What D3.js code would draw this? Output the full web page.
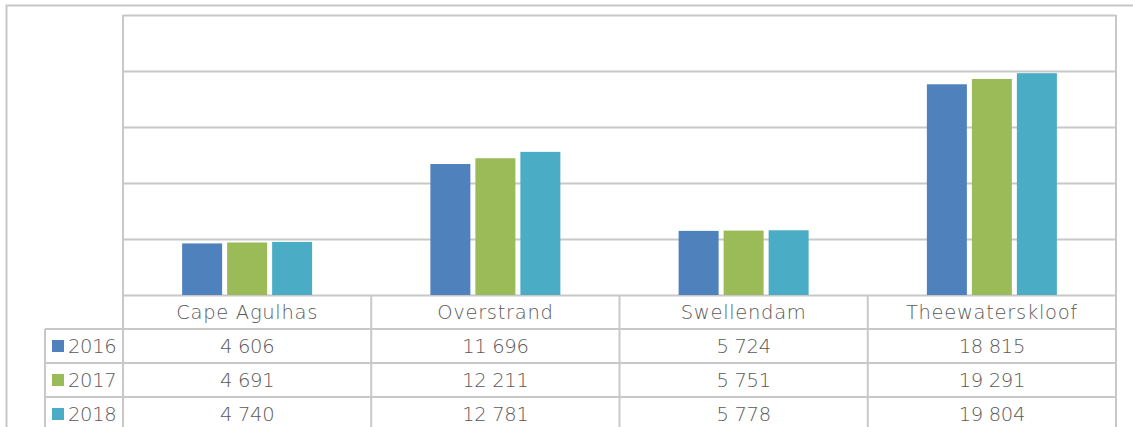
<!DOCTYPE html>
<html>
<head>
<meta charset="utf-8">
<script src="https://cdn.jsdelivr.net/npm/d3@7"></script>
<style>
  body { margin: 0; background: #fff; }
  text { font-family: "Century Gothic", "URW Gothic", "DejaVu Sans", sans-serif; fill: #595959; font-weight: 200; }
  text.cat { letter-spacing: 0.7px; }
  text.val, text.yr { letter-spacing: -0.3px; }
</style>
</head>
<body>
<div id="chart"></div>
<script>
// data
var municipalities = ["Cape Agulhas", "Overstrand", "Swellendam", "Theewaterskloof"];
var years = ["2016", "2017", "2018"];
var values2016 = [4606, 11696, 5724, 18815];
var values2017 = [4691, 12211, 5751, 19291];
var values2018 = [4740, 12781, 5778, 19804];
var yTicks = [0, 5000, 10000, 15000, 20000, 25000];
var colors = ["#4F81BD", "#9BBB59", "#4BACC6"];

var series = [values2016, values2017, values2018];

var W = 1133, H = 427;
var plot = { left: 123, right: 1116, top: 15, bottom: 295 };
var rowH = 34;
var tableLeft = 45;
var gridColor = "#C8C8C8";

var svg = d3.select("#chart")
    .append("svg")
    .attr("width", W)
    .attr("height", H);

// outer chart border (only top + left show)
svg.append("rect")
    .attr("x", 6.5).attr("y", 5.5)
    .attr("width", 1200).attr("height", 600)
    .attr("fill", "none")
    .attr("stroke", gridColor)
    .attr("stroke-width", 2);

var x = d3.scaleBand()
    .domain(municipalities)
    .range([plot.left, plot.right]);

var y = d3.scaleLinear()
    .domain([0, 25000])
    .range([plot.bottom, plot.top]);

// gridlines
svg.append("g")
    .selectAll("line")
    .data(yTicks)
    .join("line")
    .attr("x1", plot.left).attr("x2", plot.right)
    .attr("y1", function (d) { return Math.round(y(d)) + 0.5 })
    .attr("y2", function (d) { return Math.round(y(d)) + 0.5 })
    .attr("stroke", gridColor)
    .attr("stroke-width", 2);

// plot area sides
svg.append("line")
    .attr("x1", plot.left).attr("x2", plot.left)
    .attr("y1", plot.top).attr("y2", plot.bottom)
    .attr("stroke", gridColor).attr("stroke-width", 2);
svg.append("line")
    .attr("x1", plot.right).attr("x2", plot.right)
    .attr("y1", plot.top).attr("y2", plot.bottom)
    .attr("stroke", gridColor).attr("stroke-width", 2);

// bars
var barW = 40, barGap = 5;
var xSub = d3.scaleBand()
    .domain(years)
    .range([0, barW * 3 + barGap * 2])
    .paddingInner(barGap / (barW + barGap));

var groups = svg.append("g")
    .selectAll("g")
    .data(series)
    .join("g")
    .attr("fill", function (d, i) { return colors[i] });

groups.each(function (vals, si) {
    d3.select(this)
        .selectAll("rect")
        .data(vals)
        .join("rect")
        .attr("x", function (d, i) {
            return x(municipalities[i]) + x.bandwidth() / 2 - (barW * 3 + barGap * 2) / 2 + xSub(years[si]);
        })
        .attr("width", xSub.bandwidth())
        .attr("y", function (d) { return y(d) })
        .attr("height", function (d) { return y(0) - y(d) });
});

// data table
var table = svg.append("g");
var colEdges = [plot.left].concat(municipalities.map(function (m) { return x(m) + x.bandwidth() }));

// vertical lines
colEdges.forEach(function (cx) {
    table.append("line")
        .attr("x1", cx).attr("x2", cx)
        .attr("y1", plot.bottom).attr("y2", H + 5)
        .attr("stroke", gridColor).attr("stroke-width", 2);
});
table.append("line")
    .attr("x1", tableLeft).attr("x2", tableLeft)
    .attr("y1", plot.bottom + rowH).attr("y2", H + 5)
    .attr("stroke", gridColor).attr("stroke-width", 2);

// horizontal lines
for (var r = 1; r <= 3; r++) {
    table.append("line")
        .attr("x1", tableLeft).attr("x2", plot.right)
        .attr("y1", plot.bottom + r * rowH).attr("y2", plot.bottom + r * rowH)
        .attr("stroke", gridColor).attr("stroke-width", 2);
}

var fmt = function (v) { return d3.format(",")(v).replace(/,/g, " ") };
var fontSize = 19.5;

// header
table.selectAll("text.cat")
    .data(municipalities)
    .join("text")
    .attr("class", "cat")
    .attr("x", function (d) { return x(d) + x.bandwidth() / 2 })
    .attr("y", plot.bottom + rowH / 2)
    .attr("dy", "0.36em")
    .attr("text-anchor", "middle")
    .style("font-size", fontSize + "px")
    .text(function (d) { return d });

series.forEach(function (vals, si) {
    var cy = plot.bottom + (si + 1) * rowH + rowH / 2;
    table.append("rect")
        .attr("x", 52).attr("y", cy - 6)
        .attr("width", 12).attr("height", 12)
        .attr("fill", colors[si]);
    table.append("text")
        .attr("class", "yr")
        .attr("x", 68).attr("y", cy)
        .attr("dy", "0.36em")
        .style("font-size", fontSize + "px")
        .text(years[si]);
    table.append("g")
        .selectAll("text")
        .data(vals)
        .join("text")
        .attr("class", "val")
        .attr("x", function (d, i) { return x(municipalities[i]) + x.bandwidth() / 2 })
        .attr("y", cy)
        .attr("dy", "0.36em")
        .attr("text-anchor", "middle")
        .style("font-size", fontSize + "px")
        .text(function (d) { return fmt(d) });
});
</script>
</body>
</html>
